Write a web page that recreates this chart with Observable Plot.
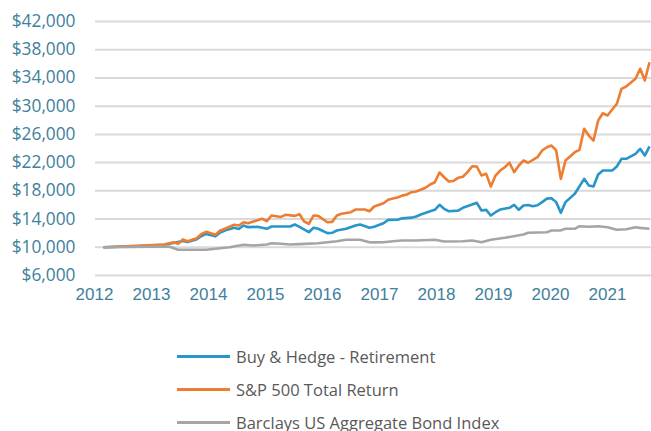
<!DOCTYPE html>
<html><head><meta charset="utf-8">
<script src="https://cdn.jsdelivr.net/npm/d3@7"></script>
<script src="https://cdn.jsdelivr.net/npm/@observablehq/plot@0.6"></script>
<style>
html,body{margin:0;padding:0;background:#fff;overflow:hidden;width:651px;height:431px}
#chart{position:absolute;left:0;top:0}
#legend{position:absolute;left:177px;top:340px;font-family:"Open Sans",sans-serif;font-size:16.5px;color:#595959}
.row{display:flex;align-items:center;height:33px;white-space:nowrap}
.sw{width:53px;height:2.5px;margin-right:6px}
</style></head><body><div id="chart"></div><div id="legend"></div>
<script>
// Series: [month index from start (0 = first month), value in $]
const seriesNames = ["Buy & Hedge - Retirement", "S&P 500 Total Return", "Barclays US Aggregate Bond Index"];
const seriesColors = ["#2896c8", "#ed7d31", "#a5a5a5"];

const buyHedge = [[0,10000],[7,10150],[13,10350],[15,10600],[17,10900],[18,10750],[20,11150],[21,11600],[22,11900],[24,11550],[25,12100],[26,12380],[28,12760],[29,12600],[30,13090],[31,12850],[33,12900],[35,12620],[36,12950],[39,12950],[40,12950],[41,13230],[42,12900],[44,12140],[45,12760],[46,12620],[48,12000],[49,12050],[50,12380],[52,12620],[54,13090],[55,13230],[57,12760],[58,12900],[60,13410],[61,13890],[63,13900],[64,14100],[66,14200],[67,14360],[68,14650],[70,15110],[71,15310],[72,16020],[73,15450],[74,15110],[76,15200],[77,15590],[79,16060],[80,16300],[81,15210],[82,15300],[83,14500],[84,14970],[85,15350],[87,15590],[88,16020],[89,15310],[90,15920],[91,16000],[92,15820],[93,15950],[94,16400],[95,16900],[96,16960],[97,16400],[98,14890],[99,16400],[101,17580],[103,19700],[104,18750],[105,18610],[106,20310],[107,20880],[109,20880],[110,21450],[111,22540],[112,22540],[114,23250],[115,23950],[116,23000],[117,24290]];

const sp500 = [[0,10000],[7,10200],[13,10400],[15,10720],[16,10490],[17,11100],[18,10860],[20,11290],[21,11900],[22,12190],[24,11770],[25,12380],[26,12620],[28,13190],[29,13090],[30,13550],[31,13410],[34,14040],[35,13700],[36,14500],[38,14300],[39,14600],[41,14450],[42,14690],[43,13650],[44,13330],[45,14500],[46,14450],[48,13550],[49,13600],[50,14500],[51,14740],[53,14970],[54,15350],[56,15350],[57,15110],[58,15780],[60,16250],[61,16730],[62,16910],[63,17050],[64,17320],[65,17480],[66,17810],[67,17900],[69,18430],[70,18900],[71,19220],[72,20600],[73,19930],[74,19320],[75,19400],[76,19840],[77,20000],[78,20650],[79,21490],[80,21450],[81,20170],[82,20410],[83,18610],[84,20170],[85,20880],[86,21350],[87,21980],[88,20640],[89,21590],[90,22300],[91,21980],[93,22770],[94,23720],[95,24180],[96,24420],[97,23720],[98,19700],[99,22300],[101,23480],[102,23810],[103,26790],[104,25840],[105,25130],[106,27970],[107,29000],[108,28680],[110,30340],[111,32460],[112,32790],[114,33880],[115,35300],[116,33640],[117,36230]];

const bonds = [[0,10000],[14,10100],[16,9650],[19,9650],[22,9650],[27,10000],[30,10350],[32,10250],[35,10390],[36,10580],[38,10500],[40,10390],[42,10450],[46,10580],[48,10720],[50,10860],[52,11060],[55,11060],[57,10720],[58,10700],[60,10720],[62,10860],[64,10960],[67,10960],[71,11060],[73,10820],[77,10850],[79,10960],[81,10720],[83,11060],[86,11340],[90,11810],[91,12050],[95,12140],[96,12380],[98,12400],[99,12620],[101,12620],[102,12990],[104,12900],[106,12990],[108,12850],[110,12480],[112,12550],[114,12850],[115,12750],[117,12620]];

const yTicks = [6000, 10000, 14000, 18000, 22000, 26000, 30000, 34000, 38000, 42000];
const yearLabels = ["2012","2013","2014","2015","2016","2017","2018","2019","2020","2021"];

// year boundaries expressed in the month index used by the series
const labelStart = -1.928, labelStep = 12.214;
const xTicks = yearLabels.map((_, i) => labelStart + i * labelStep);

const allSeries = [buyHedge, sp500, bonds];
const lineMarks = allSeries.map((s, k) =>
  Plot.line(s, {x: d => d[0], y: d => d[1], stroke: seriesColors[k], strokeWidth: 2.6, strokeLinejoin: "round", strokeLinecap: "butt"}));

const chart = Plot.plot({
  width: 651,
  height: 315,
  marginLeft: 95,
  marginRight: 0,
  marginTop: 21,
  marginBottom: 40,
  style: {background: "#fff", overflow: "visible"},
  x: {domain: [-1.714, 117.43]},
  y: {domain: [6000, 42000]},
  marks: [
    Plot.gridY({ticks: yTicks, stroke: "#d9d9d9", strokeOpacity: 1, strokeWidth: 2}),
    Plot.axisY({ticks: yTicks, tickSize: 0, tickPadding: 20, tickFormat: d => "$" + d3.format(",")(d),
      fill: "#40809b", fontSize: 17.3, fontFamily: "Open Sans", label: null}),
    Plot.axisX({ticks: xTicks, tickSize: 0, tickPadding: 12,
      tickFormat: d => yearLabels[Math.round((d - labelStart) / labelStep)],
      fill: "#40809b", fontSize: 17, fontFamily: "Liberation Sans", label: null}),
    lineMarks[0], lineMarks[1], lineMarks[2]
  ]
});
document.getElementById("chart").appendChild(chart);

const legend = document.getElementById("legend");
seriesNames.forEach((n, k) => {
  const row = document.createElement("div");
  row.className = "row";
  const sw = document.createElement("div");
  sw.className = "sw";
  sw.style.background = seriesColors[k];
  const t = document.createElement("span");
  t.textContent = n;
  row.appendChild(sw); row.appendChild(t);
  legend.appendChild(row);
});
</script></body></html>
